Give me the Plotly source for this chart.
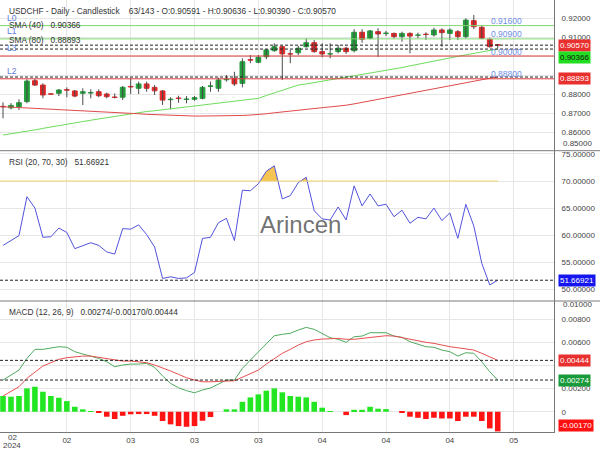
import plotly.graph_objects as go
from plotly.subplots import make_subplots

# ---------------- data ----------------
idx = list(range(63))

opens = [0.8735, 0.8727, 0.8733, 0.8760, 0.8870, 0.8847, 0.8801, 0.8804, 0.8823, 0.8816,
         0.8804, 0.8805, 0.8812, 0.8800, 0.8784, 0.8783, 0.8840, 0.8830, 0.8853, 0.8835,
         0.8816, 0.8770, 0.8779, 0.8771, 0.8772, 0.8777, 0.8840, 0.8830, 0.8875, 0.8882,
         0.8856, 0.8981, 0.8967, 0.8996, 0.9028, 0.9049, 0.9012, 0.9017, 0.9049, 0.9070,
         0.9023, 0.9010, 0.9023, 0.9041, 0.9028, 0.9125, 0.9093, 0.9128, 0.9118, 0.9119,
         0.9102, 0.9119, 0.9109, 0.9115, 0.9111, 0.9137, 0.9119, 0.9128, 0.9102, 0.9186,
         0.9151, 0.9088, 0.90591]
closes = [0.8732, 0.8740, 0.8754, 0.8868, 0.8847, 0.8795, 0.8799, 0.8821, 0.8820, 0.8789,
          0.8812, 0.8808, 0.8791, 0.8786, 0.8782, 0.8835, 0.8837, 0.8853, 0.8830, 0.8817,
          0.8768, 0.8773, 0.8776, 0.8774, 0.8781, 0.8835, 0.8843, 0.8874, 0.8878, 0.8853,
          0.8970, 0.8978, 0.8993, 0.9032, 0.9049, 0.9011, 0.9010, 0.9041, 0.9070, 0.9023,
          0.9011, 0.9012, 0.9041, 0.9023, 0.9125, 0.9088, 0.9132, 0.9116, 0.9121, 0.9102,
          0.9119, 0.9105, 0.9111, 0.9113, 0.9137, 0.9123, 0.9137, 0.9102, 0.9189, 0.9154,
          0.9093, 0.9049, 0.90570]
highs = [0.8756, 0.8752, 0.8772, 0.8877, 0.8879, 0.8856, 0.8803, 0.8826, 0.8835, 0.8821,
         0.8830, 0.8825, 0.8825, 0.8807, 0.8803, 0.8842, 0.8883, 0.8865, 0.8865, 0.8847,
         0.8821, 0.8783, 0.8791, 0.8789, 0.8789, 0.8842, 0.8865, 0.8886, 0.8900, 0.8917,
         0.8988, 0.9005, 0.9005, 0.9037, 0.9067, 0.9054, 0.9032, 0.9053, 0.9093, 0.9084,
         0.9067, 0.9067, 0.9058, 0.9049, 0.9141, 0.9141, 0.9137, 0.9146, 0.9132, 0.9123,
         0.9128, 0.9125, 0.9123, 0.9125, 0.9149, 0.9146, 0.9146, 0.9137, 0.9198, 0.9216,
         0.9163, 0.9096, 0.90636]
lows = [0.8672, 0.8719, 0.8716, 0.8751, 0.8842, 0.8777, 0.8796, 0.8789, 0.8783, 0.8783,
        0.8742, 0.8777, 0.8783, 0.8777, 0.8777, 0.8768, 0.8800, 0.8800, 0.8812, 0.8795,
        0.8742, 0.8719, 0.8754, 0.8751, 0.8765, 0.8772, 0.8812, 0.8812, 0.8865, 0.8842,
        0.8835, 0.8962, 0.8962, 0.8983, 0.9023, 0.8874, 0.8962, 0.9005, 0.9044, 0.9017,
        0.8993, 0.8988, 0.9014, 0.9011, 0.9019, 0.9070, 0.9088, 0.8996, 0.9105, 0.9093,
        0.9075, 0.9014, 0.9093, 0.9084, 0.9102, 0.9049, 0.9084, 0.9084, 0.9093, 0.9141,
        0.9088, 0.9044, 0.90390]

sma40 = [0.8584, 0.8590, 0.8598, 0.8605, 0.8611, 0.8619, 0.8627, 0.8634, 0.8641, 0.8647,
         0.8655, 0.8662, 0.8669, 0.8676, 0.8684, 0.8691, 0.8698, 0.8703, 0.8708, 0.8712,
         0.8717, 0.8722, 0.8728, 0.8733, 0.8738, 0.8743, 0.8747, 0.8752, 0.8757, 0.8762,
         0.8767, 0.8772, 0.8777, 0.8792, 0.8806, 0.8820, 0.8834, 0.8847, 0.8853, 0.8860,
         0.8867, 0.8873, 0.8880, 0.8887, 0.8894, 0.8900, 0.8907, 0.8914, 0.8921, 0.8930,
         0.8939, 0.8948, 0.8957, 0.8966, 0.8975, 0.8983, 0.8991, 0.8998, 0.9006, 0.9014,
         0.9022, 0.9029, 0.90366]
sma80 = [0.8733, 0.8731, 0.8729, 0.8727, 0.8725, 0.8723, 0.8720, 0.8718, 0.8716, 0.8714,
         0.8712, 0.8710, 0.8707, 0.8705, 0.8703, 0.8700, 0.8698, 0.8696, 0.8693, 0.8691,
         0.8689, 0.8687, 0.8685, 0.8684, 0.8684, 0.8684, 0.8684, 0.8685, 0.8685, 0.8686,
         0.8687, 0.8689, 0.8691, 0.8696, 0.8701, 0.8706, 0.8711, 0.8716, 0.8720, 0.8724,
         0.8728, 0.8732, 0.8736, 0.8741, 0.8748, 0.8756, 0.8764, 0.8772, 0.8780, 0.8788,
         0.8795, 0.8803, 0.8812, 0.8821, 0.8830, 0.8839, 0.8847, 0.8855, 0.8862, 0.8869,
         0.8876, 0.8883, 0.88893]

rsi = [58.1, 59.0, 59.9, 67.1, 65.0, 59.6, 59.7, 61.3, 60.5, 57.5,
       58.1, 58.6, 58.1, 56.9, 56.5, 61.2, 61.1, 61.9, 60.1, 57.8,
       52.0, 52.3, 52.0, 52.1, 53.1, 59.4, 59.6, 62.3, 63.1, 59.0,
       68.3, 68.2, 69.5, 71.8, 72.8, 66.7, 67.3, 69.7, 70.7, 64.5,
       63.0, 62.8, 65.2, 62.8, 69.1, 65.4, 67.6, 65.4, 65.7, 63.4,
       64.6, 62.2, 63.3, 63.0, 65.0, 62.7, 64.1, 59.4, 65.7, 61.7,
       54.8, 50.8, 51.66921]

macd = [0.00274, 0.00317, 0.00360, 0.00461, 0.00539, 0.00539, 0.00548, 0.00562, 0.00557, 0.00519,
        0.00499, 0.00481, 0.00461, 0.00432, 0.00389, 0.00404, 0.00412, 0.00412, 0.00418, 0.00384,
        0.00309, 0.00245, 0.00207, 0.00182, 0.00164, 0.00188, 0.00205, 0.00239, 0.00274, 0.00274,
        0.00375, 0.00447, 0.00519, 0.00591, 0.00657, 0.00669, 0.00678, 0.00706, 0.00729, 0.00712,
        0.00678, 0.00640, 0.00626, 0.00600, 0.00648, 0.00654, 0.00683, 0.00683, 0.00683, 0.00654,
        0.00643, 0.00605, 0.00585, 0.00562, 0.00557, 0.00533, 0.00519, 0.00481, 0.00510, 0.00505,
        0.00432, 0.00346, 0.00274]
signal = [0.00136, 0.00173, 0.00216, 0.00289, 0.00346, 0.00395, 0.00424, 0.00453, 0.00467, 0.00475,
          0.00481, 0.00481, 0.00470, 0.00455, 0.00447, 0.00438, 0.00438, 0.00432, 0.00424, 0.00404,
          0.00380, 0.00352, 0.00323, 0.00294, 0.00274, 0.00259, 0.00259, 0.00259, 0.00265, 0.00268,
          0.00297, 0.00332, 0.00360, 0.00412, 0.00461, 0.00505, 0.00539, 0.00576, 0.00605, 0.00620,
          0.00628, 0.00634, 0.00634, 0.00626, 0.00626, 0.00634, 0.00643, 0.00648, 0.00657, 0.00654,
          0.00640, 0.00626, 0.00614, 0.00600, 0.00591, 0.00576, 0.00562, 0.00553, 0.00542, 0.00533,
          0.00505, 0.00475, 0.00444]
hist = [0.00136, 0.00130, 0.00136, 0.00202, 0.00216, 0.00173, 0.00136, 0.00121, 0.00092, 0.00043,
        0.00021, 0.00003, -0.00008, -0.00043, -0.00063, -0.00035, -0.00022, -0.00020, -0.00020, -0.00035,
        -0.00080, -0.00109, -0.00124, -0.00130, -0.00124, -0.00078, -0.00046, 0.0, 0.00021, 0.00021,
        0.00086, 0.00124, 0.00150, 0.00182, 0.00202, 0.00168, 0.00136, 0.00130, 0.00124, 0.00086,
        0.00035, 0.00005, 0.0, -0.00029, 0.00017, 0.00017, 0.00043, 0.00026, 0.00023, 0.0,
        -0.00008, -0.00043, -0.00052, -0.00063, -0.00052, -0.00058, -0.00058, -0.00080, -0.00043, -0.00043,
        -0.00080, -0.00144, -0.00170]

level_names = ["L0", "L1", "L3", "L2"]
level_values = [0.916, 0.909, 0.900, 0.888]
level_colors = ["#7fd870", "#7fd870", "#dc3b3b", "#dc3b3b"]

price_ticks = [0.86, 0.87, 0.88, 0.89, 0.90, 0.91, 0.92]
# 0.89 / 0.90 labels sit under the value tags in the reference
price_ticktext = ["0.86000", "0.87000", "0.88000", "", "", "0.91000", "0.92000"]
rsi_ticks = [50, 55, 60, 65, 70, 75]
macd_ticks = [0, 0.002, 0.004, 0.006, 0.008]
macd_ticktext = ["0", "0.00200", "", "0.00600", "0.00800"]
x_tickvals = [8, 16, 24, 32, 40, 48, 56, 64]
x_ticktext = ["02", "03", "03", "03", "04", "04", "04", "05"]
RSI_HI = 70

# ---------------- layout geometry ----------------
W, H = 600, 450
ML, MR, MT, MB = 0, 46, 0, 18
PW, PH = W - ML - MR, H - MT - MB
SEP1, SEP2 = 150.7, 301.0


def py(ypx):
    return 1 - ypx / PH


def px(xpx):
    return xpx / PW


XR = [-0.376, 69.05]
FONT = "Liberation Sans, Arial, sans-serif"
GREEN = "#22a03c"
RED = "#e02828"

fig = make_subplots(rows=3, cols=1, shared_xaxes=True, vertical_spacing=0)

# price panel
wx, wy = [], []
for i, h, l in zip(idx, highs, lows):
    wx += [i, i, None]
    wy += [l, h, None]
fig.add_trace(go.Scatter(x=wx, y=wy, mode="lines", line=dict(color="#4a4a4a", width=1),
                         hoverinfo="skip"), row=1, col=1)
body_base = [min(o, c) for o, c in zip(opens, closes)]
body_h = [abs(c - o) for o, c in zip(opens, closes)]
body_col = [GREEN if c >= o else RED for o, c in zip(opens, closes)]
fig.add_trace(go.Bar(x=idx, y=body_h, base=body_base, width=0.6,
                     marker=dict(color=body_col, line=dict(color=body_col, width=1))),
              row=1, col=1)
fig.add_trace(go.Scatter(x=idx, y=sma40, mode="lines", line=dict(color="#6edc5c", width=1)), row=1, col=1)
fig.add_trace(go.Scatter(x=idx, y=sma80, mode="lines", line=dict(color="#e04a4a", width=1)), row=1, col=1)

# RSI panel
fx, fy = [], []
for i in range(len(rsi) - 1):
    a, b = rsi[i], rsi[i + 1]
    if (a > RSI_HI) != (b > RSI_HI):
        t = (RSI_HI - a) / (b - a)
        fx.append(idx[i] + t * (idx[i + 1] - idx[i]))
        fy.append(RSI_HI)
        if a > RSI_HI:
            fx.append(None)
            fy.append(None)
    if b > RSI_HI:
        fx.append(idx[i + 1])
        fy.append(b)
fig.add_trace(go.Scatter(x=fx, y=fy, mode="lines", fill="toself", fillcolor="#f6c453",
                         line=dict(width=0), hoverinfo="skip"), row=2, col=1)
fig.add_trace(go.Scatter(x=idx, y=rsi, mode="lines", line=dict(color="#5252dc", width=1)), row=2, col=1)

# MACD panel
hist_col = ["#22e622" if v >= 0 else "#ff1414" for v in hist]
fig.add_trace(go.Bar(x=idx, y=hist, width=0.7, marker=dict(color=hist_col, line=dict(width=0))),
              row=3, col=1)
fig.add_trace(go.Scatter(x=idx, y=macd, mode="lines", line=dict(color="#4faa5f", width=1)), row=3, col=1)
fig.add_trace(go.Scatter(x=idx, y=signal, mode="lines", line=dict(color="#e85050", width=1)), row=3, col=1)

fig.update_layout(
    width=W, height=H, margin=dict(l=ML, r=MR, t=MT, b=MB),
    paper_bgcolor="white", plot_bgcolor="white", showlegend=False,
    font=dict(family=FONT, size=8, color="#444"),
    bargap=0.3,
)

grid = "#e6e6e6"
yax_common = dict(side="right", showline=True, linecolor="#777", linewidth=1, gridcolor=grid,
                  zeroline=False, ticks="outside", ticklen=5, tickcolor="rgba(0,0,0,0)",
                  tickfont=dict(size=8, color="#444"))
fig.update_layout(
    yaxis=dict(domain=[py(SEP1), 1], range=[0.92 - (SEP1 - 18) / 1900, 0.92 + 18 / 1900],
               tickvals=price_ticks, ticktext=price_ticktext, **yax_common),
    yaxis2=dict(domain=[py(SEP2), py(SEP1)], range=[47.83, 75.6],
                tickvals=rsi_ticks, tickformat=".5f", **yax_common),
    yaxis3=dict(domain=[0, py(SEP2)], range=[-0.00175, 0.00957],
                tickvals=macd_ticks, ticktext=macd_ticktext, **yax_common),
)
for ax in ["xaxis", "xaxis2", "xaxis3"]:
    fig.layout[ax].update(range=XR, showgrid=True, gridcolor=grid, zeroline=False,
                          tickvals=x_tickvals, ticktext=x_ticktext, ticks="",
                          rangeslider=dict(visible=False))
fig.layout.xaxis3.update(showline=True, linecolor="#777", linewidth=1,
                         tickfont=dict(size=8, color="#444"))

shapes = []
# level lines
for v, c in zip(level_values, level_colors):
    shapes.append(dict(type="line", xref="paper", x0=0, x1=1, yref="y", y0=v, y1=v,
                       line=dict(color=c, width=1)))
# current-value dashed lines
dash = dict(color="#222", width=1, dash="3px,2px")
for v in [closes[-1], sma40[-1], sma80[-1]]:
    shapes.append(dict(type="line", xref="paper", x0=0, x1=1, yref="y", y0=v, y1=v, line=dash))
shapes.append(dict(type="line", xref="paper", x0=0, x1=1, yref="y2", y0=rsi[-1], y1=rsi[-1], line=dash))
for v in [signal[-1], macd[-1]]:
    shapes.append(dict(type="line", xref="paper", x0=0, x1=1, yref="y3", y0=v, y1=v, line=dash))
# RSI 70 line
shapes.append(dict(type="line", xref="x2", x0=XR[0], x1=idx[-1], yref="y2", y0=RSI_HI, y1=RSI_HI,
                   line=dict(color="#f2d26e", width=1)))
# panel separators
for s in [SEP1, SEP2]:
    shapes.append(dict(type="line", xref="paper", x0=0, x1=W / PW, yref="paper", y0=py(s), y1=py(s),
                       line=dict(color="#7a7a7a", width=1)))
fig.update_layout(shapes=shapes)

ann = []


def text(x, y, t, size=8.3, color="#333", xanchor="left"):
    ann.append(dict(xref="paper", yref="paper", x=px(x), y=py(y), text=t, showarrow=False,
                    xanchor=xanchor, yanchor="middle", font=dict(family=FONT, size=size, color=color)))


sp = "\u00a0"
text(7, 11, f"USDCHF - Daily - Candlestick{sp*4}63/143 - O:{opens[-1]:.5f} - H:{highs[-1]:.5f} - "
            f"L:{lows[-1]:.5f} - C:{closes[-1]:.5f}")
text(7, 25, f"SMA (40){sp*3}{sma40[-1]:.5f}")
text(7, 40, f"SMA (80){sp*3}{sma80[-1]:.5f}")
text(7, 162, f"RSI (20, 70, 30){sp*3}{rsi[-1]:.5f}")
text(7, 312, f"MACD (12, 26, 9){sp*3}{macd[-1]:.5f}/{hist[-1]:.5f}/{signal[-1]:.5f}")

# level labels
for n, v in zip(level_names, level_values):
    ann.append(dict(xref="paper", yref="y", x=px(5), y=v, yshift=8, text=n, showarrow=False,
                    xanchor="left", yanchor="middle", font=dict(family=FONT, size=8.5, color="#5d7bd8")))
    ann.append(dict(xref="x", yref="y", x=idx[-1] - 1.1, y=v, yshift=4.5, text=f"{v:.5f}", showarrow=False,
                    xanchor="left", yanchor="middle", font=dict(family=FONT, size=8.5, color="#6f8fe6")))

# edge tick labels
text(561, 143, "0.85000", size=8, color="#444")
text(561, 304.5, "0.01000", size=8, color="#444")


def tag(yref, v, t, bg, fg, yshift=0):
    ann.append(dict(xref="paper", yref=yref, x=px(557.5), y=v, yshift=yshift, text=t, showarrow=False,
                    xanchor="left", yanchor="middle", bgcolor=bg, borderpad=1,
                    font=dict(family=FONT, size=8, color=fg)))


tag("y", closes[-1], f"{closes[-1]:.5f}", "#e8312f", "white", -0.5)
tag("y", sma40[-1], f"{sma40[-1]:.5f}", "#22dd22", "#111", -8.7)
tag("y", sma80[-1], f"{sma80[-1]:.5f}", "#e8312f", "white", -1.5)
tag("y2", rsi[-1], f"{rsi[-1]:.5f}", "#1515f0", "white", -0.3)
tag("y3", signal[-1], f"{signal[-1]:.5f}", "#e8312f", "white", -0.5)
tag("y3", macd[-1], f"{macd[-1]:.5f}", "#199a3a", "white", -0.5)
tag("y3", hist[-1], f"{hist[-1]:.5f}", "#ff1010", "white", 5.5)

# first date label
text(12, 437.5, "02", size=8, color="#444", xanchor="center")
text(12, 445.5, "2024", size=8, color="#444", xanchor="center")

# watermark
ann.append(dict(xref="paper", yref="paper", x=px(300), y=py(224), text="Arincen", showarrow=False,
                xanchor="center", yanchor="middle",
                font=dict(family=FONT, size=24, color="rgba(95,95,95,0.9)")))

fig.update_layout(annotations=ann)
fig.write_html("out.html")
